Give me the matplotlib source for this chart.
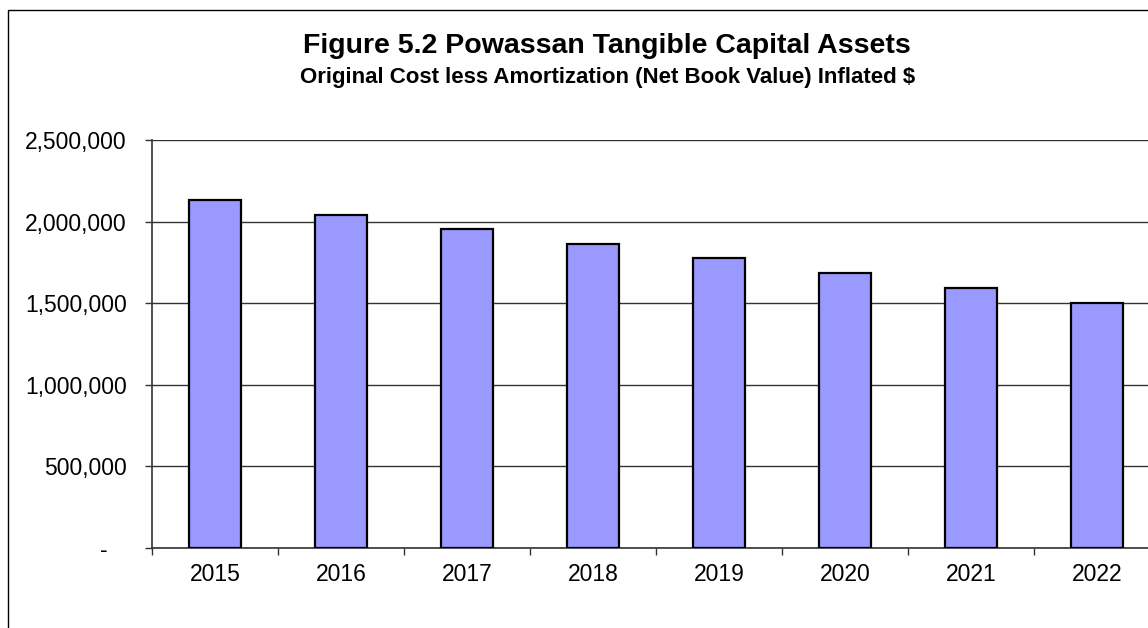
import matplotlib
matplotlib.use('Agg')
import matplotlib.pyplot as plt
from matplotlib.patches import Rectangle
from matplotlib.ticker import FuncFormatter

plt.rcParams['font.family'] = ['Liberation Sans', 'DejaVu Sans']

# net book value by year
years = ['2015', '2016', '2017', '2018', '2019', '2020', '2021', '2022']
net_book_value = [2130000, 2042000, 1953000, 1865000, 1776000, 1683000, 1592000, 1503000]

W, H = 1148, 628
fig = plt.figure(figsize=(W / 100, H / 100), dpi=100)

# chart frame (runs off the right and bottom edges)
fig.patches.append(Rectangle((7.5 / W, -0.1), 1.2, 1 - 10.5 / H + 0.1,
                             transform=fig.transFigure, fill=False,
                             edgecolor='black', linewidth=1.0))

ax = fig.add_axes([152 / W, 1 - 548 / H, 1008 / W, 408 / H])
ax.set_xlim(-0.5, len(years) - 0.5)
ax.set_ylim(0, 2500000)

ax.bar(range(len(years)), net_book_value, width=0.405, color='#9999FF',
       edgecolor='black', linewidth=1.6, zorder=3)

ax.set_yticks(range(0, 2500001, 500000))
ax.yaxis.set_major_formatter(FuncFormatter(lambda v, p: '-   ' if v == 0 else f'{int(v):,}'))
ax.yaxis.grid(True, color='#333333', linewidth=1.0, zorder=0)

ax.set_xticks([i + 0.5 for i in range(-1, len(years))], minor=False)
ax.set_xticklabels([])
ax.set_xticks(range(len(years)), minor=True)
ax.set_xticklabels(years, minor=True)
ax.tick_params(axis='x', which='major', direction='out', length=5, width=1, color='#333333')
ax.tick_params(axis='x', which='minor', length=0, pad=11, labelsize=16.5)
ax.tick_params(axis='y', direction='out', length=5, width=1, color='#333333',
               labelsize=16.5, pad=13)

for side in ['top', 'right']:
    ax.spines[side].set_visible(False)
for side in ['left', 'bottom']:
    ax.spines[side].set_color('#333333')
    ax.spines[side].set_linewidth(1.2)

fig.text(607 / W, 1 - 46 / H, 'Figure 5.2 Powassan Tangible Capital Assets',
         ha='center', va='center', fontsize=20.5, fontweight='bold')
fig.text(608 / W, 1 - 78 / H, 'Original Cost less Amortization (Net Book Value) Inflated $',
         ha='center', va='center', fontsize=16, fontweight='bold')

fig.savefig('out.png', dpi=100)
